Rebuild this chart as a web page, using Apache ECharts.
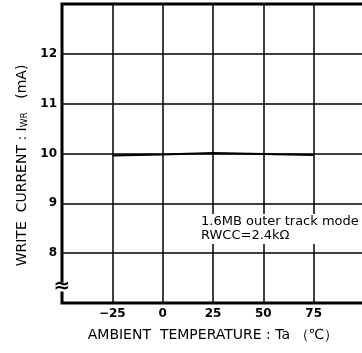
<!DOCTYPE html>
<html>
<head>
<meta charset="utf-8">
<script src="https://cdn.jsdelivr.net/npm/echarts@6/dist/echarts.min.js"></script>
<style>
  html, body { margin: 0; padding: 0; background: #fff; }
  #chart { width: 362px; height: 353px; }
</style>
</head>
<body>
<div id="chart"></div>
<script>
// ambient temperature (°C) and write current (mA)
const temps = [-25, 0, 25, 50, 75]
const writeCurrent = [9.96, 9.98, 10.01, 9.99, 9.97]
const yTicksShown = [8, 9, 10, 11, 12]
const xTicksShown = [-25, 0, 25, 50, 75]
const noteLines = ['1.6MB outer track mode', 'RWCC=2.4k\u03A9']

const font = '"DejaVu Sans", "Liberation Sans", sans-serif'
const chart = echarts.init(document.getElementById('chart'))

const option = {
  animation: false,
  grid: {
    left: 62,
    top: 4,
    height: 299,
    width: 302,
    outerBoundsMode: 'none',
    containLabel: false,
    show: true,
    borderColor: '#000',
    borderWidth: 3
  },
  xAxis: {
    type: 'value',
    min: -50,
    max: 100,
    interval: 25,
    axisLine: { show: false },
    axisTick: { show: false },
    splitLine: { show: true, lineStyle: { color: '#000', width: 1.5 } },
    axisLabel: {
      color: '#000',
      fontFamily: font,
      fontSize: 12,
      fontWeight: 'bold',
      margin: 5,
      formatter: v => xTicksShown.includes(v) ? (v < 0 ? '\u2212' + (-v) : String(v)) : ''
    },
    name: 'AMBIENT  TEMPERATURE : Ta \uFF08\u2103\uFF09',
    nameLocation: 'middle',
    nameGap: 25,
    nameTextStyle: { color: '#000', fontFamily: font, fontSize: 14 }
  },
  yAxis: {
    type: 'value',
    min: 7,
    max: 13,
    interval: 1,
    axisLine: { show: false },
    axisTick: { show: false },
    splitLine: { show: true, lineStyle: { color: '#000', width: 1.5 } },
    axisLabel: {
      color: '#000',
      fontFamily: font,
      fontSize: 12,
      fontWeight: 'bold',
      margin: 5,
      formatter: v => yTicksShown.includes(v) ? String(v) : ''
    },
    name: 'WRITE  CURRENT : I{sub|WR}   (mA)',
    nameLocation: 'middle',
    nameGap: 32,
    nameTextStyle: {
      color: '#000',
      fontFamily: font,
      fontSize: 14,
      padding: [0, 24, 0, 0],
      rich: {
        sub: { fontFamily: font, fontSize: 9, color: '#000', padding: [5, 0, 0, 0] }
      }
    }
  },
  graphic: [
    {
      type: 'text',
      left: 199,
      top: 214,
      z: 100,
      style: {
        text: noteLines.join('\n'),
        font: '13px ' + font,
        fill: '#000',
        lineHeight: 14,
        backgroundColor: '#fff',
        padding: [1, 2, 1, 2]
      }
    },
    {
      type: 'text',
      x: 62,
      y: 287,
      z: 100,
      style: {
        text: '\u2248',
        font: 'bold 20px ' + font,
        fill: '#000',
        align: 'center',
        verticalAlign: 'middle',
        lineHeight: 9,
        backgroundColor: '#fff'
      }
    }
  ],
  series: [{
    type: 'line',
    data: temps.map((t, i) => [t, writeCurrent[i]]),
    symbol: 'none',
    lineStyle: { color: '#000', width: 2.2 }
  }]
}
chart.setOption(option)
</script>
</body>
</html>
